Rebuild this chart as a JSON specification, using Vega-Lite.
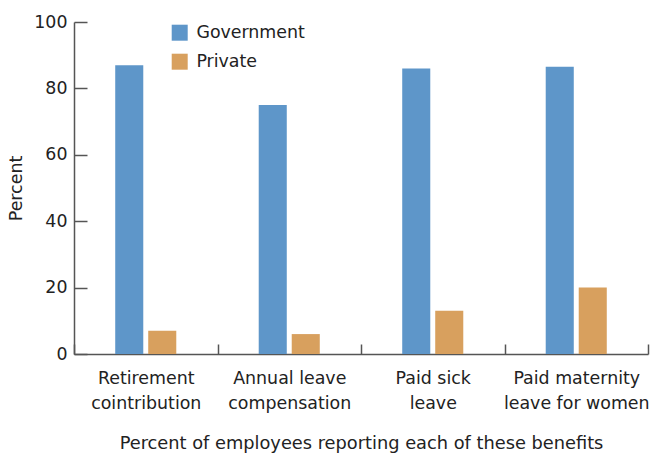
{
  "$schema": "https://vega.github.io/schema/vega-lite/v6.json",
  "width": 574,
  "height": 332,
  "autosize": {"type": "none"},
  "padding": {"left": 74, "top": 22, "right": 3, "bottom": 99},
  "background": "white",
  "config": {
    "view": {"stroke": null},
    "font": "DejaVu Sans",
    "axis": {"grid": false, "domainColor": "#555", "domainWidth": 1.5, "tickColor": "#555", "tickWidth": 1.5, "labelColor": "#222", "titleColor": "#222", "labelFont": "DejaVu Sans", "titleFont": "DejaVu Sans", "titleFontWeight": "normal"}
  },
  "data": {
    "values": [
      {"benefit": "Retirement|cointribution", "sector": "Government", "percent": 87},
      {"benefit": "Retirement|cointribution", "sector": "Private", "percent": 7},
      {"benefit": "Annual leave|compensation", "sector": "Government", "percent": 75},
      {"benefit": "Annual leave|compensation", "sector": "Private", "percent": 6},
      {"benefit": "Paid sick|leave", "sector": "Government", "percent": 86},
      {"benefit": "Paid sick|leave", "sector": "Private", "percent": 13},
      {"benefit": "Paid maternity|leave for women", "sector": "Government", "percent": 86.5},
      {"benefit": "Paid maternity|leave for women", "sector": "Private", "percent": 20}
    ]
  },
  "mark": {"type": "bar"},
  "encoding": {
    "x": {
      "field": "benefit",
      "type": "nominal",
      "sort": null,
      "scale": {"paddingInner": 0, "paddingOuter": 0},
      "axis": {
        "title": "Percent of employees reporting each of these benefits",
        "titleFontSize": 17.8,
        "titlePadding": 23,
        "labelExpr": "split(datum.label, '|')",
        "labelAngle": 0,
        "labelFontSize": 17.4,
        "labelLineHeight": 25,
        "labelPadding": 25,
        "labelBaseline": "top",
        "tickBand": "extent",
        "tickSize": -10
      }
    },
    "xOffset": {
      "field": "sector",
      "type": "nominal",
      "scale": {"domain": ["_a", "Government", "Private", "_b"], "paddingInner": 0.15, "paddingOuter": 0.249}
    },
    "y": {
      "field": "percent",
      "type": "quantitative",
      "scale": {"domain": [0, 100], "nice": false},
      "axis": {
        "title": "Percent",
        "titleFontSize": 17.4,
        "titlePadding": 8.5,
        "values": [0, 20, 40, 60, 80, 100],
        "labelFontSize": 17.4,
        "labelPadding": 20,
        "tickSize": -13
      }
    },
    "color": {
      "field": "sector",
      "type": "nominal",
      "scale": {"domain": ["Government", "Private"], "range": ["#5e96c9", "#d8a05e"]},
      "legend": {
        "title": null,
        "orient": "none",
        "legendX": 97,
        "legendY": 2,
        "padding": 0,
        "symbolType": "square",
        "symbolSize": 256,
        "symbolStrokeWidth": 0,
        "symbolOpacity": 1,
        "labelFontSize": 17.4,
        "labelColor": "#222",
        "labelOffset": 8,
        "rowPadding": 10
      }
    }
  }
}
